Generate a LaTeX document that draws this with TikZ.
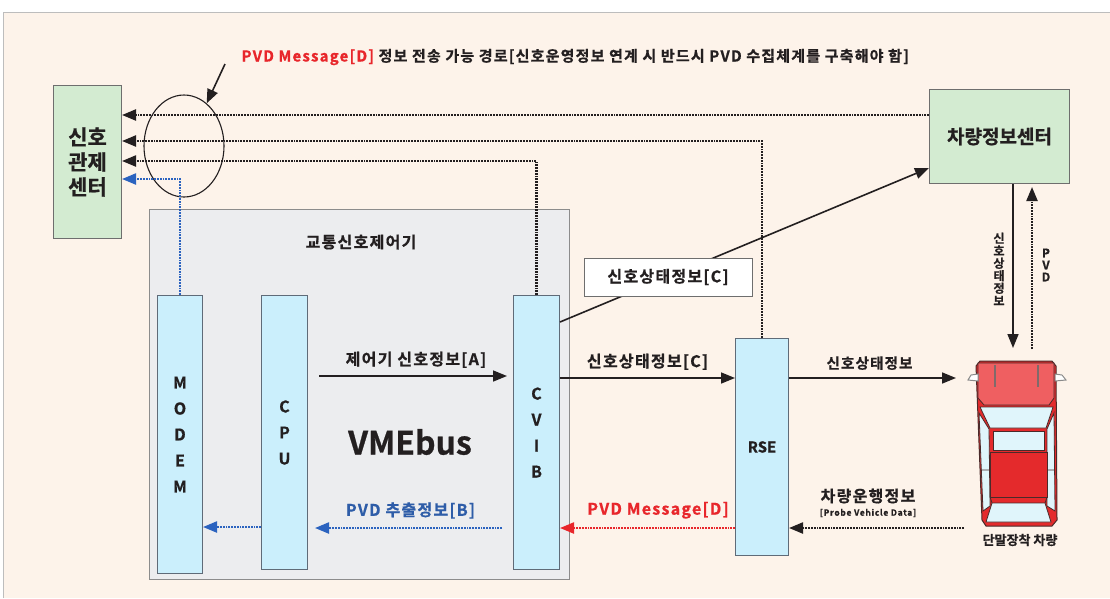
\documentclass[tikz,border=0pt]{standalone}
\usepackage{fontspec}
\setmainfont{Noto Sans CJK KR}[BoldFont={Noto Sans CJK KR Bold}, BoldFeatures={FakeBold=0.8}]
\newfontfamily\lbl{Noto Sans CJK KR}[BoldFont={Noto Sans CJK KR Bold}, BoldFeatures={FakeBold=0.8}, LetterSpace=8]
\usetikzlibrary{arrows.meta,shapes.geometric}

\definecolor{paper}{HTML}{FDF3EA}
\definecolor{frameline}{HTML}{BDBDBD}
\definecolor{hubgreen}{HTML}{D3EBD1}
\definecolor{boxline}{HTML}{6E6E6E}
\definecolor{ctrlfill}{HTML}{ECEDEF}
\definecolor{ctrlline}{HTML}{8C8C8C}
\definecolor{cardfill}{HTML}{CBEFFC}
\definecolor{cardline}{HTML}{5F6B78}
\definecolor{ink}{HTML}{231F20}
\definecolor{pvdred}{HTML}{E8262B}
\definecolor{pvdblue}{HTML}{2E5DA8}
\definecolor{linkblue}{HTML}{2B63BF}
\definecolor{carred}{HTML}{E42A2C}
\definecolor{carlight}{HTML}{EF5F61}
\definecolor{carglass}{HTML}{E0F5FB}
\definecolor{cardark}{HTML}{4A2A2A}
\definecolor{mirror}{HTML}{8A8A8A}

\newcommand{\fs}[2]{\fontsize{#1}{#2}\selectfont}

\tikzset{
  every node/.style={text=ink, font=\bfseries},
  hubbox/.style={draw=boxline, fill=hubgreen, line width=1pt, inner sep=0pt,
    anchor=north west, align=center},
  cardbox/.style={draw=cardline, fill=cardfill, line width=1pt, inner sep=0pt,
    anchor=north west, align=center, font=\bfseries\fs{16}{26}},
  lblfont/.style={font=\lbl\bfseries\fs{#1}{18}},
  tagbox/.style={draw=boxline, fill=white, line width=1pt, inner sep=0pt,
    minimum width=168pt, minimum height=38pt, lblfont=16},
  tip/.style={-{Triangle[length=14pt,width=11pt]}},
  solidarrow/.style={tip, draw=ink, line width=1.6pt},
  dotarrow/.style={tip, draw=ink, line width=2.2pt, dash pattern=on 1.8pt off 1.0pt},
  bluedotarrow/.style={dotarrow, draw=linkblue},
  reddotarrow/.style={dotarrow, draw=pvdred},
  glass/.style={fill=carglass, draw=cardark, line width=0.8pt},
}

\begin{document}
\begin{tikzpicture}[x=1pt, y=-1pt]
  % sheet
  \useasboundingbox (0,0) rectangle (1110,598);
  \fill[white] (0,0) rectangle (1110,598);
  \fill[paper] (3,12) rectangle (1110,598);
  \draw[frameline, line width=1pt] (3,598) -- (3,12) -- (1110,12);

  % centres
  \node[hubbox, minimum width=68pt, minimum height=153pt,
        font=\bfseries\fs{21}{25}] (hub) at (53,85) {신호\\관제\\센터};
  \node[hubbox, minimum width=140pt, minimum height=94pt,
        font=\bfseries\fs{19}{22}] (vic) at (929,89) {차량정보센터};

  % traffic signal controller
  \node[draw=ctrlline, fill=ctrlfill, line width=1.2pt, inner sep=0pt,
        anchor=north west, minimum width=420pt, minimum height=370pt] (ctrl) at (149,209) {};
  \node[lblfont=16] (ctrltitle) at (361,242) {교통신호제어기};
  \node[cardbox, minimum width=45pt, minimum height=278pt] (modem) at (157,295) {M\\O\\D\\E\\M};
  \node[cardbox, minimum width=46pt, minimum height=274pt] (cpu) at (261,295) {C\\P\\U};
  \node[cardbox, minimum width=46pt, minimum height=274pt] (cvib) at (513,295) {C\\V\\I\\B};
  \node[font=\bfseries\fs{32}{34}] (bus) at (410,442) {VMEbus};

  % roadside unit
  \node[cardbox, minimum width=53pt, minimum height=217pt, font=\bfseries\fs{15}{18}] (rse) at (735,338) {RSE};

  % vehicle outline area
  \node[inner sep=0pt, minimum width=98pt, minimum height=168pt, anchor=north west] (car) at (968,359) {};
  \node[font=\bfseries\fs{13}{15}] (carname) at (1020,540) {단말장착 차량};

  % vehicle drawing
  \filldraw[fill=carred, draw=cardark, line width=1pt]
    (976,366) -- (980,361) -- (1052,361) -- (1056,366) -- (1057,520)
    -- (1052,526) -- (986,526) -- (982,520) -- cycle;
  \filldraw[fill=carlight, draw=cardark, line width=0.8pt]
    (978,363) -- (1054,363) -- (1054,398) -- (1049,405) -- (984,405) -- (978,398) -- cycle;
  \draw[cardark!70, line width=1.5pt] (995,365) -- (995,387) (1038,365) -- (1038,387);
  \filldraw[glass] (980,407) -- (1053,407) -- (1046,428) -- (990,428) -- cycle;
  \filldraw[glass] (979,413) -- (989,429) -- (990,506) -- (983,511) -- cycle;
  \filldraw[glass] (1054,413) -- (1047,429) -- (1047,506) -- (1055,511) -- cycle;
  \filldraw[glass] (993,431) rectangle (1044,450);
  \filldraw[glass] (992,503) -- (1045,503) -- (1051,522) -- (986,522) -- cycle;
  \filldraw[fill=carred, draw=cardark, line width=0.8pt] (990,452) rectangle (1047,497);
  \draw[cardark, line width=0.8pt] (990,497) -- (992,503) (1047,497) -- (1045,503)
    (980,470) -- (990,470) (1047,470) -- (1055,470);
  \filldraw[fill=white, draw=mirror, line width=1pt]
    (978,374) -- (971,375) -- (968,380) -- (978,381) -- cycle;
  \filldraw[fill=white, draw=mirror, line width=1pt]
    (1055,374) -- (1062,375) -- (1066,380) -- (1055,381) -- cycle;

  % note and the ring it points at
  \node[draw=ink, line width=1.1pt, ellipse, minimum width=80pt, minimum height=102pt,
        inner sep=0pt] (ring) at (184,146) {};
  \node[anchor=west, lblfont=15] (note) at (238,57)
    {\textcolor{pvdred}{PVD Message[D]} 정보 전송 가능 경로[신호운영정보 연계 시 반드시 PVD 수집체계를 구축해야 함]};
  \coordinate (noteptr) at (225,64);
  \draw[solidarrow] (noteptr) -- (ring.62);

  % report paths to the signal centre
  \draw[dotarrow] (vic.west |- 0,115) -- (hub.east |- 0,115);
  \draw[dotarrow] (rse.north) |- (hub.east |- 0,141);
  \draw[dotarrow] (cvib.north) |- (hub.east |- 0,161);
  \draw[bluedotarrow] (modem.north) |- (hub.east |- 0,179);

  % inside the controller
  \coordinate (astart) at (319,376);
  \draw[solidarrow, shorten >=6pt] (astart) -- (astart -| cvib.west)
    node[midway, above=4pt, lblfont=16] (alabel) {제어기 신호정보[A]};
  \draw[bluedotarrow] (cpu.west |- 0,527) -- (modem.east |- 0,527);
  \draw[bluedotarrow, shorten <=11pt, shorten >=7pt] (cvib.west |- 0,528) -- (cpu.east |- 0,528)
    node[midway, above=5pt, text=pvdblue, lblfont=16] (blabel) {PVD 추출정보[B]};

  % signal state towards the vehicle information centre
  \draw[solidarrow] (cvib.east |- 0,322) -- (vic.west |- 0,168);
  \node[tagbox] (ctag) at (668,277) {신호상태정보[C]};

  % controller <-> RSE <-> vehicle
  \draw[solidarrow] (cvib.east |- 0,378) -- (rse.west |- 0,378)
    node[midway, above=4pt, lblfont=16] (clabel) {신호상태정보[C]};
  \draw[solidarrow, shorten >=12pt] (rse.east |- 0,378) -- (car.west |- 0,378)
    node[pos=0.45, above=4pt, lblfont=14.5] (slabel) {신호상태정보};
  \draw[reddotarrow] (rse.west |- 0,528) -- (cvib.east |- 0,528)
    node[pos=0.44, above=5pt, text=pvdred, lblfont=16] (dlabel) {PVD Message[D]};
  \draw[dotarrow, shorten <=4pt] (car.west |- 0,528) -- (rse.east |- 0,528);
  \node[lblfont=16] (plabel) at (868,496) {차량운행정보};
  \node[font=\lbl\bfseries\fs{8.5}{9}] (psub) at (868,513) {[Probe Vehicle Data]};

  % vehicle information centre <-> vehicle
  \draw[solidarrow, shorten >=11pt] (vic.south -| 1013,0) -- (car.north -| 1013,0);
  \draw[dotarrow, shorten <=10pt, shorten >=3pt] (car.north -| 1032,0) -- (vic.south -| 1032,0);
  \node[font=\bfseries\fs{12}{12.5}, align=center] (vlabel) at (999,269) {신\\호\\상\\태\\정\\보};
  \node[font=\bfseries\fs{12}{12}, align=center] (pvdlabel) at (1046,265) {P\\V\\D};
\end{tikzpicture}
\end{document}
